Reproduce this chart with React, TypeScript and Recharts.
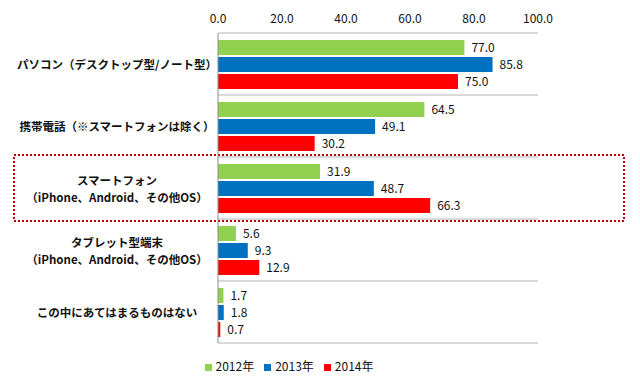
import {
  Bar,
  BarChart,
  CartesianGrid,
  LabelList,
  Legend,
  ReferenceArea,
  XAxis,
  YAxis
} from "recharts";

const categories = [
  "パソコン（デスクトップ型/ノート型）",
  "携帯電話（※スマートフォンは除く）",
  "スマートフォン\n（iPhone、Android、その他OS）",
  "タブレット型端末\n（iPhone、Android、その他OS）",
  "この中にあてはまるものはない"
];
const values2012 = [77.0, 64.5, 31.9, 5.6, 1.7];
const values2013 = [85.8, 49.1, 48.7, 9.3, 1.8];
const values2014 = [75.0, 30.2, 66.3, 12.9, 0.7];
const xTicks = [0, 20, 40, 60, 80, 100];
const highlighted = categories[2];

const data = categories.map((name, i) => ({
  name,
  y2012: values2012[i],
  y2013: values2013[i],
  y2014: values2014[i]
}));

const FONT = "'Noto Sans CJK JP', 'Noto Sans', sans-serif";

const CategoryTick = ({ y, payload }: any) => {
  const lines = String(payload.value).split("\n");
  const lh = 17;
  const start = y - ((lines.length - 1) * lh) / 2;
  return (
    <text
      x={117}
      y={start}
      textAnchor="middle"
      dominantBaseline="central"
      fontSize={11.5}
      fontWeight={700}
      fill="#111"
      fontFamily={FONT}
    >
      {lines.map((line, i) => (
        <tspan key={i} x={117} y={start + i * lh}>
          {line}
        </tspan>
      ))}
    </text>
  );
};

const HighlightBox = (props: any) => (
  <rect
    x={14}
    y={props.y - 2}
    width={610}
    height={props.height + 4}
    fill="none"
    stroke="#c00000"
    strokeWidth={2}
    strokeDasharray="2 2"
  />
);

export default function App() {
  return (
    <div style={{ width: 640, height: 382, background: "#fff" }}>
      <style>{`body{margin:0}`}</style>
      <BarChart
        width={640}
        height={382}
        data={data}
        layout="vertical"
        margin={{ top: 0, right: 102, bottom: 39, left: 0 }}
        barSize={15}
        barGap={2}
      >
        <CartesianGrid
          vertical={false}
          stroke="#b4b4b4"
          horizontalCoordinatesGenerator={({ offset }: any) =>
            categories
              .concat([""])
              .map((_, i) => offset.top + (i * offset.height) / categories.length)
          }
        />
        <ReferenceArea
          y1={highlighted}
          y2={highlighted}
          shape={HighlightBox}
          ifOverflow="visible"
        />
        <XAxis
          type="number"
          orientation="top"
          domain={[0, 100]}
          ticks={xTicks}
          height={33}
          axisLine={false}
          tickLine={false}
          tickSize={0}
          tickMargin={10}
          tickFormatter={(v: number) => v.toFixed(1)}
          tick={{ fill: "#111", fontSize: 12, fontFamily: FONT }}
        />
        <YAxis
          type="category"
          dataKey="name"
          width={218}
          axisLine={{ stroke: "#8c8c8c" }}
          tickLine={false}
          tick={<CategoryTick />}
          interval={0}
        />
        <Legend
          verticalAlign="middle"
          align="center"
          iconType="square"
          iconSize={7}
          wrapperStyle={{ top: 357, left: 204, width: 180, fontFamily: FONT, fontSize: 12 }}
          formatter={(value: string) => <span style={{ color: "#111" }}>{value}</span>}
        />
        <Bar dataKey="y2012" name="2012年" fill="#92d050" isAnimationActive={false}>
          <LabelList
            dataKey="y2012"
            position="right"
            offset={7}
            formatter={(v: number) => v.toFixed(1)}
            style={{ fill: "#111", fontSize: 12, fontFamily: FONT }}
          />
        </Bar>
        <Bar dataKey="y2013" name="2013年" fill="#0070c0" isAnimationActive={false}>
          <LabelList
            dataKey="y2013"
            position="right"
            offset={7}
            formatter={(v: number) => v.toFixed(1)}
            style={{ fill: "#111", fontSize: 12, fontFamily: FONT }}
          />
        </Bar>
        <Bar dataKey="y2014" name="2014年" fill="#ff0000" isAnimationActive={false}>
          <LabelList
            dataKey="y2014"
            position="right"
            offset={7}
            formatter={(v: number) => v.toFixed(1)}
            style={{ fill: "#111", fontSize: 12, fontFamily: FONT }}
          />
        </Bar>
      </BarChart>
    </div>
  );
}
